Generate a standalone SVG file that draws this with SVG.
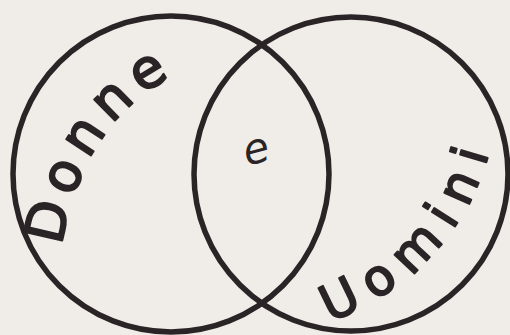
<svg xmlns="http://www.w3.org/2000/svg" width="510" height="335" viewBox="0 0 510 335">
<style>
.ring{fill:none;stroke:#2b2427;stroke-width:5.5}
.hand{font-family:"DejaVu Sans",sans-serif;fill:#2b2427;stroke:#2b2427;stroke-width:2;stroke-linejoin:round}
.thin{font-family:"DejaVu Sans",sans-serif;fill:#2b2427}
</style>
<defs>
<path id="pDonne" d="M 62,246 C 74,160 125,82 212,62"/>
<path id="pUomini" d="M 330,322 Q 480,262 500,100"/>
</defs>
<rect width="510" height="335" fill="#f0ece7"/>
<g id="donne">
<circle class="ring" cx="171" cy="174" r="158"/>
<text class="hand" font-size="54" letter-spacing="8"><textPath href="#pDonne">Donne</textPath></text>
</g>
<g id="uomini">
<circle class="ring" cx="351" cy="174" r="157"/>
<text class="hand" font-size="50" letter-spacing="13"><textPath href="#pUomini">Uomini</textPath></text>
</g>
<g id="e">
<text class="thin" x="256" y="163" font-size="42" font-style="italic" text-anchor="middle" transform="rotate(-15 256 150)">e</text>
</g>
</svg>
